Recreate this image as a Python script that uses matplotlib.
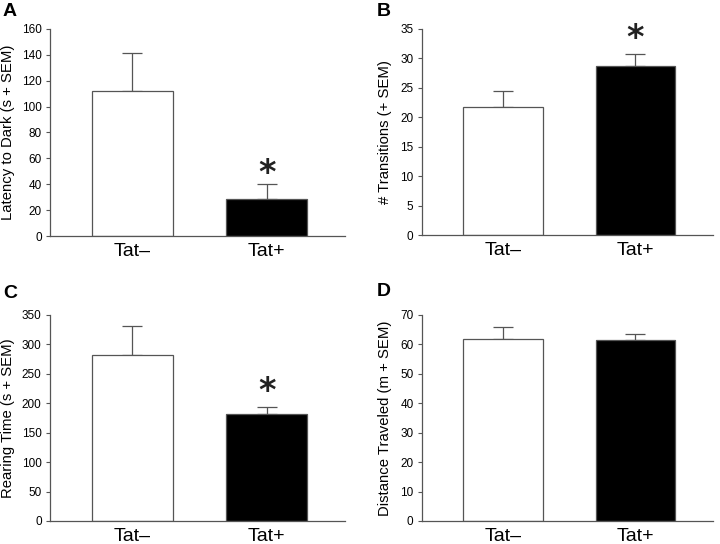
import matplotlib
matplotlib.use("Agg")
import matplotlib.pyplot as plt

plt.rcParams["font.family"] = ["Liberation Sans", "DejaVu Sans"]

groups = ["Tat\u2013", "Tat+"]

latency = [112, 29]
latency_sem = [29, 11]

transitions = [21.7, 28.7]
transitions_sem = [2.7, 2.0]

rearing = [281, 181]
rearing_sem = [50, 13]

distance = [61.8, 61.6]
distance_sem = [4.1, 1.9]

# panel: (label, values, sem, ylabel, ymax, ystep, star y or None)
panels = [
    ("A", latency, latency_sem, "Latency to Dark (s + SEM)", 160, 20, 48),
    ("B", transitions, transitions_sem, "# Transitions (+ SEM)", 35, 5, 33.4),
    ("C", rearing, rearing_sem, "Rearing Time (s + SEM)", 350, 50, 220),
    ("D", distance, distance_sem, "Distance Traveled (m + SEM)", 70, 10, None),
]
star_idx = {"A": 1, "B": 1, "C": 1}

positions = {
    "A": [0.0694, 0.566, 0.410, 0.381],
    "B": [0.586, 0.568, 0.404, 0.379],
    "C": [0.0694, 0.0423, 0.410, 0.379],
    "D": [0.586, 0.0423, 0.404, 0.379],
}
# x of the ylabel's right edge, in axes units
ylabel_x = {"A": -0.119, "B": -0.103, "C": -0.119, "D": -0.103}
label_xy = {"A": (0.004, 0.995), "B": (0.523, 0.995), "C": (0.004, 0.477), "D": (0.523, 0.48)}

fig = plt.figure(figsize=(7.2, 5.44), dpi=100)
grey = "#555555"

for name, vals, sem, ylab, ymax, ystep, star in panels:
    ax = fig.add_axes(positions[name])
    x = range(len(groups))
    ax.bar(x, vals, width=0.6, color=["white", "black"], edgecolor=grey,
           linewidth=0.9, zorder=2)
    ax.errorbar(x, vals, yerr=[[0] * len(sem), sem], fmt="none", ecolor=grey,
                elinewidth=0.9, capsize=7, capthick=0.9, zorder=1)
    ax.set_xlim(-0.613, 1.584)
    ax.set_ylim(0, ymax)
    ax.set_yticks(range(0, ymax + 1, ystep))
    ax.set_xticks(list(x))
    ax.set_xticklabels(groups, fontsize=14)
    ax.tick_params(axis="x", length=0, pad=5)
    ax.tick_params(axis="y", labelsize=8.5, length=3, width=0.8, color=grey, pad=3)
    ax.set_ylabel(ylab, fontsize=10.7)
    ax.yaxis.set_label_coords(ylabel_x[name], 0.5)
    for s in ["top", "right"]:
        ax.spines[s].set_visible(False)
    for s in ["left", "bottom"]:
        ax.spines[s].set_color(grey)
        ax.spines[s].set_linewidth(0.9)
    if star is not None:
        ax.text(star_idx[name], star, "*", ha="center", va="center",
                fontsize=24, fontweight="bold", color="#222222", family="DejaVu Sans")
    fig.text(label_xy[name][0], label_xy[name][1], name, fontsize=14,
             fontweight="bold", ha="left", va="top")

fig.savefig("out.png", dpi=100)
